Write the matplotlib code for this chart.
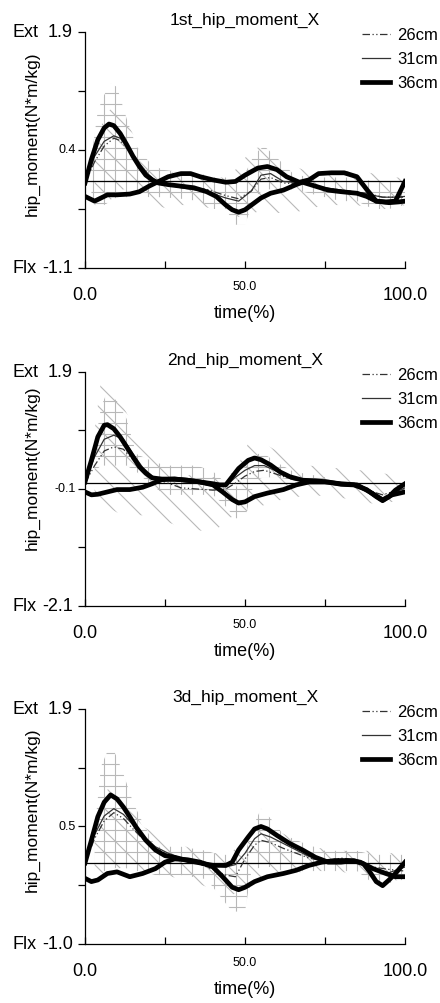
import matplotlib
matplotlib.use("Agg")
import matplotlib.pyplot as plt
from matplotlib import font_manager

names = {f.name for f in font_manager.fontManager.ttflist}
fam = 'Liberation Sans Narrow' if 'Liberation Sans Narrow' in names else 'Liberation Sans'
plt.rcParams['font.family'] = [fam, 'DejaVu Sans']

# low dpi so the hatch grid comes out as dense as in the original; S rescales points
DPI = 66
S = 100 / DPI
plt.rcParams['hatch.color'] = '#b8b8b8'
plt.rcParams['hatch.linewidth'] = 0.8 * S

titles = ['1st_hip_moment_X', '2nd_hip_moment_X', '3d_hip_moment_X']
labels = ['26cm', '31cm', '36cm']
ylims = [(-1.1, 1.9), (-2.1, 1.9), (-1.0, 1.9)]
yticks = [[1.9, 1.15, 0.4, -0.35, -1.1],
          [1.9, 0.9, -0.1, -1.1, -2.1],
          [1.9, 1.175, 0.45, -0.275, -1.0]]
ytick_labels = [['1.9', '', '0.4', '', '-1.1'],
                ['1.9', '', '-0.1', '', '-2.1'],
                ['1.9', '', '0.5', '', '-1.0']]

# ---- panel 1 ----
p1_tA = [0, 2, 4, 6, 7.5, 9, 11, 13, 15, 17, 19, 21, 23, 26, 30, 34, 38, 41, 44, 46, 48, 50, 52, 55, 58, 62, 66, 68, 72, 76, 80, 85, 88, 91, 95, 98, 100]
p1_36 = [-0.02, 0.28, 0.53, 0.68, 0.73, 0.71, 0.61, 0.47, 0.32, 0.19, 0.08, 0.02, -0.02, -0.04, -0.06, -0.08, -0.13, -0.19, -0.30, -0.36, -0.39, -0.36, -0.30, -0.21, -0.15, -0.11, -0.04, -0.01, -0.06, -0.11, -0.13, -0.15, -0.19, -0.25, -0.27, -0.26, -0.25]
p1_tB = [0, 2, 3, 5, 7, 10, 14, 17, 20, 23, 26, 30, 33, 36, 40, 44, 47, 50, 54, 57, 60, 63, 67, 70, 73, 77, 81, 85, 88, 91, 94, 97, 100]
p1_B = [-0.19, -0.23, -0.25, -0.21, -0.17, -0.17, -0.16, -0.13, -0.06, 0.0, 0.06, 0.10, 0.10, 0.06, 0.02, -0.01, 0.0, 0.08, 0.17, 0.19, 0.15, 0.06, -0.01, 0.02, 0.10, 0.11, 0.11, 0.06, -0.10, -0.25, -0.26, -0.25, 0.0]
p1_tT = [0, 3, 6, 9, 11, 14, 17, 20, 23, 30, 38, 44, 48, 52, 55, 58, 62, 68, 75, 82, 88, 93, 97, 100]
p1_26 = [-0.02, 0.25, 0.45, 0.55, 0.52, 0.38, 0.22, 0.08, -0.02, -0.06, -0.10, -0.18, -0.22, -0.12, 0.03, 0.05, -0.02, -0.03, -0.08, -0.12, -0.15, -0.20, -0.20, -0.20]
p1_31 = [-0.02, 0.32, 0.51, 0.58, 0.55, 0.40, 0.23, 0.08, -0.02, -0.08, -0.13, -0.21, -0.25, -0.12, 0.08, 0.10, 0.0, -0.02, -0.08, -0.12, -0.16, -0.20, -0.20, -0.19]
p1_tX = [2, 4, 6, 8, 10, 13, 16, 20, 24, 30, 36, 40, 44, 47, 50, 53, 56, 60, 65, 70, 75, 80, 85, 90, 95, 100]
p1_Xhi = [0.3, 0.9, 1.1, 1.25, 1.2, 0.8, 0.45, 0.25, 0.15, 0.12, 0.1, 0.05, 0.05, 0.0, 0.1, 0.35, 0.45, 0.3, 0.1, 0.05, 0.05, 0.05, 0.05, 0.0, 0.0, 0.0]
p1_Xlo = [-0.25, -0.3, -0.3, -0.25, -0.2, -0.2, -0.15, -0.2, -0.2, -0.22, -0.25, -0.35, -0.35, -0.55, -0.55, -0.2, -0.1, -0.1, -0.1, -0.15, -0.2, -0.25, -0.25, -0.35, -0.35, -0.3]
p1_tD = [3, 6, 9, 12, 15, 18, 22, 26, 30, 35, 40, 45, 50, 53, 56, 60, 65, 70, 75, 80, 85, 90, 95, 100]
p1_Dhi = [0.35, 0.85, 0.95, 0.85, 0.6, 0.35, 0.15, 0.12, 0.1, 0.1, 0.05, 0.05, 0.3, 0.42, 0.45, 0.35, 0.2, 0.12, 0.1, 0.12, 0.15, 0.1, 0.05, 0.05]
p1_Dlo = [-0.3, -0.3, -0.2, -0.1, -0.1, -0.2, -0.3, -0.35, -0.3, -0.3, -0.35, -0.45, -0.45, -0.4, -0.35, -0.4, -0.4, -0.35, -0.3, -0.3, -0.3, -0.35, -0.35, -0.3]

# ---- panel 2 ----
p2_tA = [0, 2, 4, 6, 7, 9, 11, 13, 15, 17, 19, 21, 24, 28, 32, 36, 40, 42, 44, 46, 48, 51, 53, 55, 58, 61, 64, 68, 72, 76, 80, 84, 88, 91, 93, 95, 97, 100]
p2_36 = [0.02, 0.39, 0.79, 0.99, 1.0, 0.93, 0.79, 0.62, 0.45, 0.28, 0.17, 0.09, 0.07, 0.07, 0.05, 0.02, -0.01, -0.03, -0.03, 0.11, 0.25, 0.39, 0.43, 0.40, 0.31, 0.19, 0.11, 0.05, 0.04, 0.02, -0.02, -0.03, -0.11, -0.23, -0.30, -0.23, -0.12, -0.01]
p2_tB = [0, 2, 4, 7, 10, 14, 18, 21, 24, 28, 32, 36, 40, 43, 46, 48, 50, 53, 57, 62, 66, 70, 75, 80, 85, 89, 93, 96, 100]
p2_B = [-0.15, -0.20, -0.19, -0.15, -0.11, -0.11, -0.07, -0.01, 0.06, 0.07, 0.05, 0.02, -0.03, -0.15, -0.28, -0.34, -0.32, -0.23, -0.17, -0.11, -0.03, 0.02, 0.02, -0.01, -0.03, -0.15, -0.29, -0.20, -0.15]
p2_tT = [0, 3, 6, 9, 12, 15, 18, 21, 25, 30, 35, 40, 44, 47, 50, 53, 56, 60, 65, 70, 75, 80, 85, 90, 93, 96, 100]
p2_26 = [0.0, 0.3, 0.55, 0.62, 0.58, 0.4, 0.2, 0.08, 0.02, -0.08, -0.1, -0.12, -0.1, 0.0, 0.12, 0.2, 0.22, 0.15, 0.06, 0.02, 0.0, -0.02, -0.05, -0.15, -0.2, -0.15, -0.1]
p2_31 = [0.0, 0.45, 0.75, 0.82, 0.75, 0.5, 0.27, 0.12, 0.05, 0.03, 0.0, -0.05, -0.05, 0.1, 0.22, 0.3, 0.3, 0.2, 0.08, 0.03, 0.01, -0.02, -0.05, -0.15, -0.25, -0.18, -0.08]
p2_tX = [3, 5, 7, 10, 13, 16, 20, 25, 30, 35, 40, 44, 47, 50, 53, 56, 60, 65, 70, 75]
p2_Xhi = [0.6, 1.3, 1.57, 1.4, 1.1, 0.5, 0.4, 0.3, 0.3, 0.3, 0.2, 0.0, -0.1, 0.3, 0.5, 0.5, 0.35, 0.2, 0.15, 0.1]
p2_Xlo = [0.2, 0.3, 0.3, 0.3, 0.3, 0.2, 0.0, -0.2, -0.2, -0.2, -0.2, -0.4, -0.6, -0.6, 0.05, 0.1, 0.1, 0.05, 0.05, 0.0]
p2_tD = [3, 5, 10, 15, 20, 25, 30, 40, 45, 47, 52, 60, 70, 80, 90, 100]
p2_Dhi = [0.9, 1.75, 1.5, 1.0, 0.6, 0.3, 0.15, 0.1, 0.15, 0.2, 0.8, 0.55, 0.3, 0.25, 0.2, 0.1]
p2_Dlo = [-0.3, -0.35, -0.5, -0.55, -0.55, -0.65, -0.75, -0.85, -0.6, -0.55, -0.45, -0.3, -0.2, -0.25, -0.35, -0.3]

# ---- panel 3 ----
p3_tA = [0, 2, 4, 6, 8, 10, 12, 14, 16, 19, 22, 25, 28, 32, 36, 40, 44, 46, 48, 51, 53, 55, 57, 60, 64, 68, 72, 76, 80, 84, 87, 89, 91, 93, 95, 97, 100]
p3_36 = [0.0, 0.28, 0.57, 0.75, 0.84, 0.79, 0.69, 0.57, 0.44, 0.28, 0.16, 0.09, 0.07, 0.03, 0.0, -0.03, -0.03, 0.01, 0.16, 0.32, 0.42, 0.45, 0.42, 0.34, 0.24, 0.16, 0.07, 0.01, 0.01, 0.03, -0.01, -0.11, -0.23, -0.28, -0.21, -0.13, 0.01]
p3_tB = [0, 2, 4, 7, 10, 14, 18, 22, 25, 28, 32, 36, 40, 43, 46, 48, 50, 53, 57, 62, 66, 70, 74, 78, 82, 86, 90, 94, 97, 100]
p3_B = [-0.19, -0.23, -0.21, -0.13, -0.11, -0.17, -0.13, -0.07, 0.01, 0.05, 0.04, 0.01, -0.05, -0.17, -0.30, -0.33, -0.30, -0.23, -0.17, -0.13, -0.09, -0.03, 0.01, 0.03, 0.03, 0.01, -0.07, -0.13, -0.17, -0.17]
p3_tT = [0, 3, 6, 9, 12, 15, 18, 22, 26, 30, 35, 40, 44, 47, 50, 53, 55, 58, 62, 66, 70, 75, 80, 85, 90, 95, 100]
p3_26 = [0.0, 0.3, 0.52, 0.62, 0.55, 0.42, 0.3, 0.18, 0.1, 0.05, 0.0, -0.08, -0.15, -0.17, 0.05, 0.22, 0.28, 0.25, 0.18, 0.12, 0.06, 0.02, 0.06, 0.04, -0.05, -0.08, -0.1]
p3_31 = [0.0, 0.35, 0.58, 0.67, 0.6, 0.47, 0.34, 0.2, 0.12, 0.06, 0.02, -0.03, -0.05, -0.02, 0.12, 0.3, 0.36, 0.32, 0.24, 0.16, 0.08, 0.02, 0.02, 0.02, -0.08, -0.12, -0.05]
p3_tX = [3, 5, 8, 10, 12, 15, 18, 22, 30, 38, 42, 46, 50, 52, 55, 58, 62, 68, 75, 85, 90, 95, 100]
p3_Xhi = [0.4, 1.19, 1.47, 1.3, 1.1, 0.75, 0.5, 0.2, 0.2, 0.15, 0.1, 0.1, 0.1, 0.4, 0.67, 0.55, 0.35, 0.25, 0.15, 0.15, 0.1, 0.1, 0.1]
p3_Xlo = [-0.1, -0.1, -0.1, -0.05, -0.05, -0.1, -0.1, -0.15, -0.15, -0.2, -0.4, -0.6, -0.6, -0.1, -0.05, -0.05, -0.1, -0.1, -0.1, -0.1, -0.25, -0.25, -0.2]
p3_tD = [3, 5, 8, 12, 18, 25, 35, 45, 50, 55, 60, 70, 80, 90, 100]
p3_Dhi = [0.3, 0.7, 1.0, 0.85, 0.45, 0.3, 0.15, 0.1, 0.3, 0.5, 0.4, 0.2, 0.15, 0.15, 0.1]
p3_Dlo = [-0.1, -0.15, -0.1, -0.05, -0.1, -0.15, -0.25, -0.4, -0.35, -0.2, -0.15, -0.1, -0.1, -0.25, -0.2]

panels = [
    (p1_tA, p1_36, p1_tB, p1_B, p1_tT, p1_26, p1_31, p1_tX, p1_Xhi, p1_Xlo, p1_tD, p1_Dhi, p1_Dlo),
    (p2_tA, p2_36, p2_tB, p2_B, p2_tT, p2_26, p2_31, p2_tX, p2_Xhi, p2_Xlo, p2_tD, p2_Dhi, p2_Dlo),
    (p3_tA, p3_36, p3_tB, p3_B, p3_tT, p3_26, p3_31, p3_tX, p3_Xhi, p3_Xlo, p3_tD, p3_Dhi, p3_Dlo),
]

W, H = 440, 1003
# axes boxes in pixels: left, top, right, bottom
boxes = [(85, 32, 405, 268), (85, 372, 405, 606), (85, 709, 405, 944)]
ylab_y = [0.57, 0.59, 0.57]

fig = plt.figure(figsize=(W / DPI + 1e-4, H / DPI + 1e-4), dpi=DPI)

for i, (box, data) in enumerate(zip(boxes, panels)):
    l, t, r, b = box
    ax = fig.add_axes([l / W, 1 - b / H, (r - l) / W, (b - t) / H])
    tA, v36, tB, vB, tT, v26, v31, tX, Xhi, Xlo, tD, Dhi, Dlo = data

    ax.fill_between(tD, Dlo, Dhi, facecolor='none', edgecolor='#b8b8b8', hatch='\\', linewidth=0)
    ax.fill_between(tX, Xlo, Xhi, facecolor='none', edgecolor='#b8b8b8', hatch='+', linewidth=0)
    ax.axhline(0, color='black', lw=0.9 * S)
    ax.plot(tT, v26, color='#333333', lw=0.9 * S, linestyle=(0, (6, 2, 1, 2, 1, 2)), label=labels[0])
    ax.plot(tT, v31, color='#333333', lw=0.9 * S, label=labels[1])
    ax.plot(tA, v36, color='black', lw=3.4 * S, label=labels[2])
    ax.plot(tB, vB, color='black', lw=3.4 * S)

    ax.set_xlim(0, 100)
    ax.set_ylim(*ylims[i])
    for s in ['top', 'right']:
        ax.spines[s].set_visible(False)
    for s in ['left', 'bottom']:
        ax.spines[s].set_linewidth(0.9 * S)
    ax.set_yticks(yticks[i])
    ax.set_yticklabels([])
    ax.set_xticks([0, 25, 50, 75, 100])
    ax.set_xticklabels([])
    ax.tick_params(axis='y', direction='out', length=5 * S, width=0.9 * S)
    ax.tick_params(axis='x', direction='in', length=5 * S, width=0.9 * S)

    # y tick labels, large ends and small middle
    for k, (yv, lab) in enumerate(zip(yticks[i], ytick_labels[i])):
        if not lab:
            continue
        big = k in (0, len(yticks[i]) - 1)
        ax.annotate(lab, xy=(0, yv), xycoords=('axes fraction', 'data'),
                    xytext=(-12 if big else -9, 0), textcoords='offset pixels',
                    ha='right', va='center', fontsize=(13 if big else 9) * S)
    ax.annotate('Ext', xy=(0, yticks[i][0]), xycoords=('axes fraction', 'data'),
                xytext=(-73, 0), textcoords='offset pixels', ha='left', va='center', fontsize=13 * S)
    ax.annotate('Flx', xy=(0, yticks[i][-1]), xycoords=('axes fraction', 'data'),
                xytext=(-73, 0), textcoords='offset pixels', ha='left', va='center', fontsize=13 * S)

    # x tick labels
    for xv, lab, big in [(0, '0.0', True), (50, '50.0', False), (100, '100.0', True)]:
        ax.annotate(lab, xy=(xv, 0), xycoords=('data', 'axes fraction'),
                    xytext=(0, -27 if big else -19), textcoords='offset pixels',
                    ha='center', va='center', fontsize=(13 if big else 9) * S)
    ax.annotate('time(%)', xy=(0.5, 0), xycoords='axes fraction',
                xytext=(0, -45), textcoords='offset pixels', ha='center', va='center', fontsize=13 * S)
    ax.annotate(titles[i], xy=(0.5, 1), xycoords='axes fraction',
                xytext=(0, 12), textcoords='offset pixels', ha='center', va='center', fontsize=12.5 * S)

    ax.set_ylabel('hip_moment(N*m/kg)', fontsize=12.5 * S)
    ax.yaxis.set_label_coords(-0.14, ylab_y[i])

    ax.legend(loc='upper left', bbox_to_anchor=(362 / W, 1 - (t - 4) / H),
              bbox_transform=fig.transFigure, frameon=False, fontsize=12 * S,
              handlelength=1.7, handletextpad=0.4, labelspacing=0.55,
              borderpad=0, borderaxespad=0)

fig.savefig('out.png', dpi=DPI)
